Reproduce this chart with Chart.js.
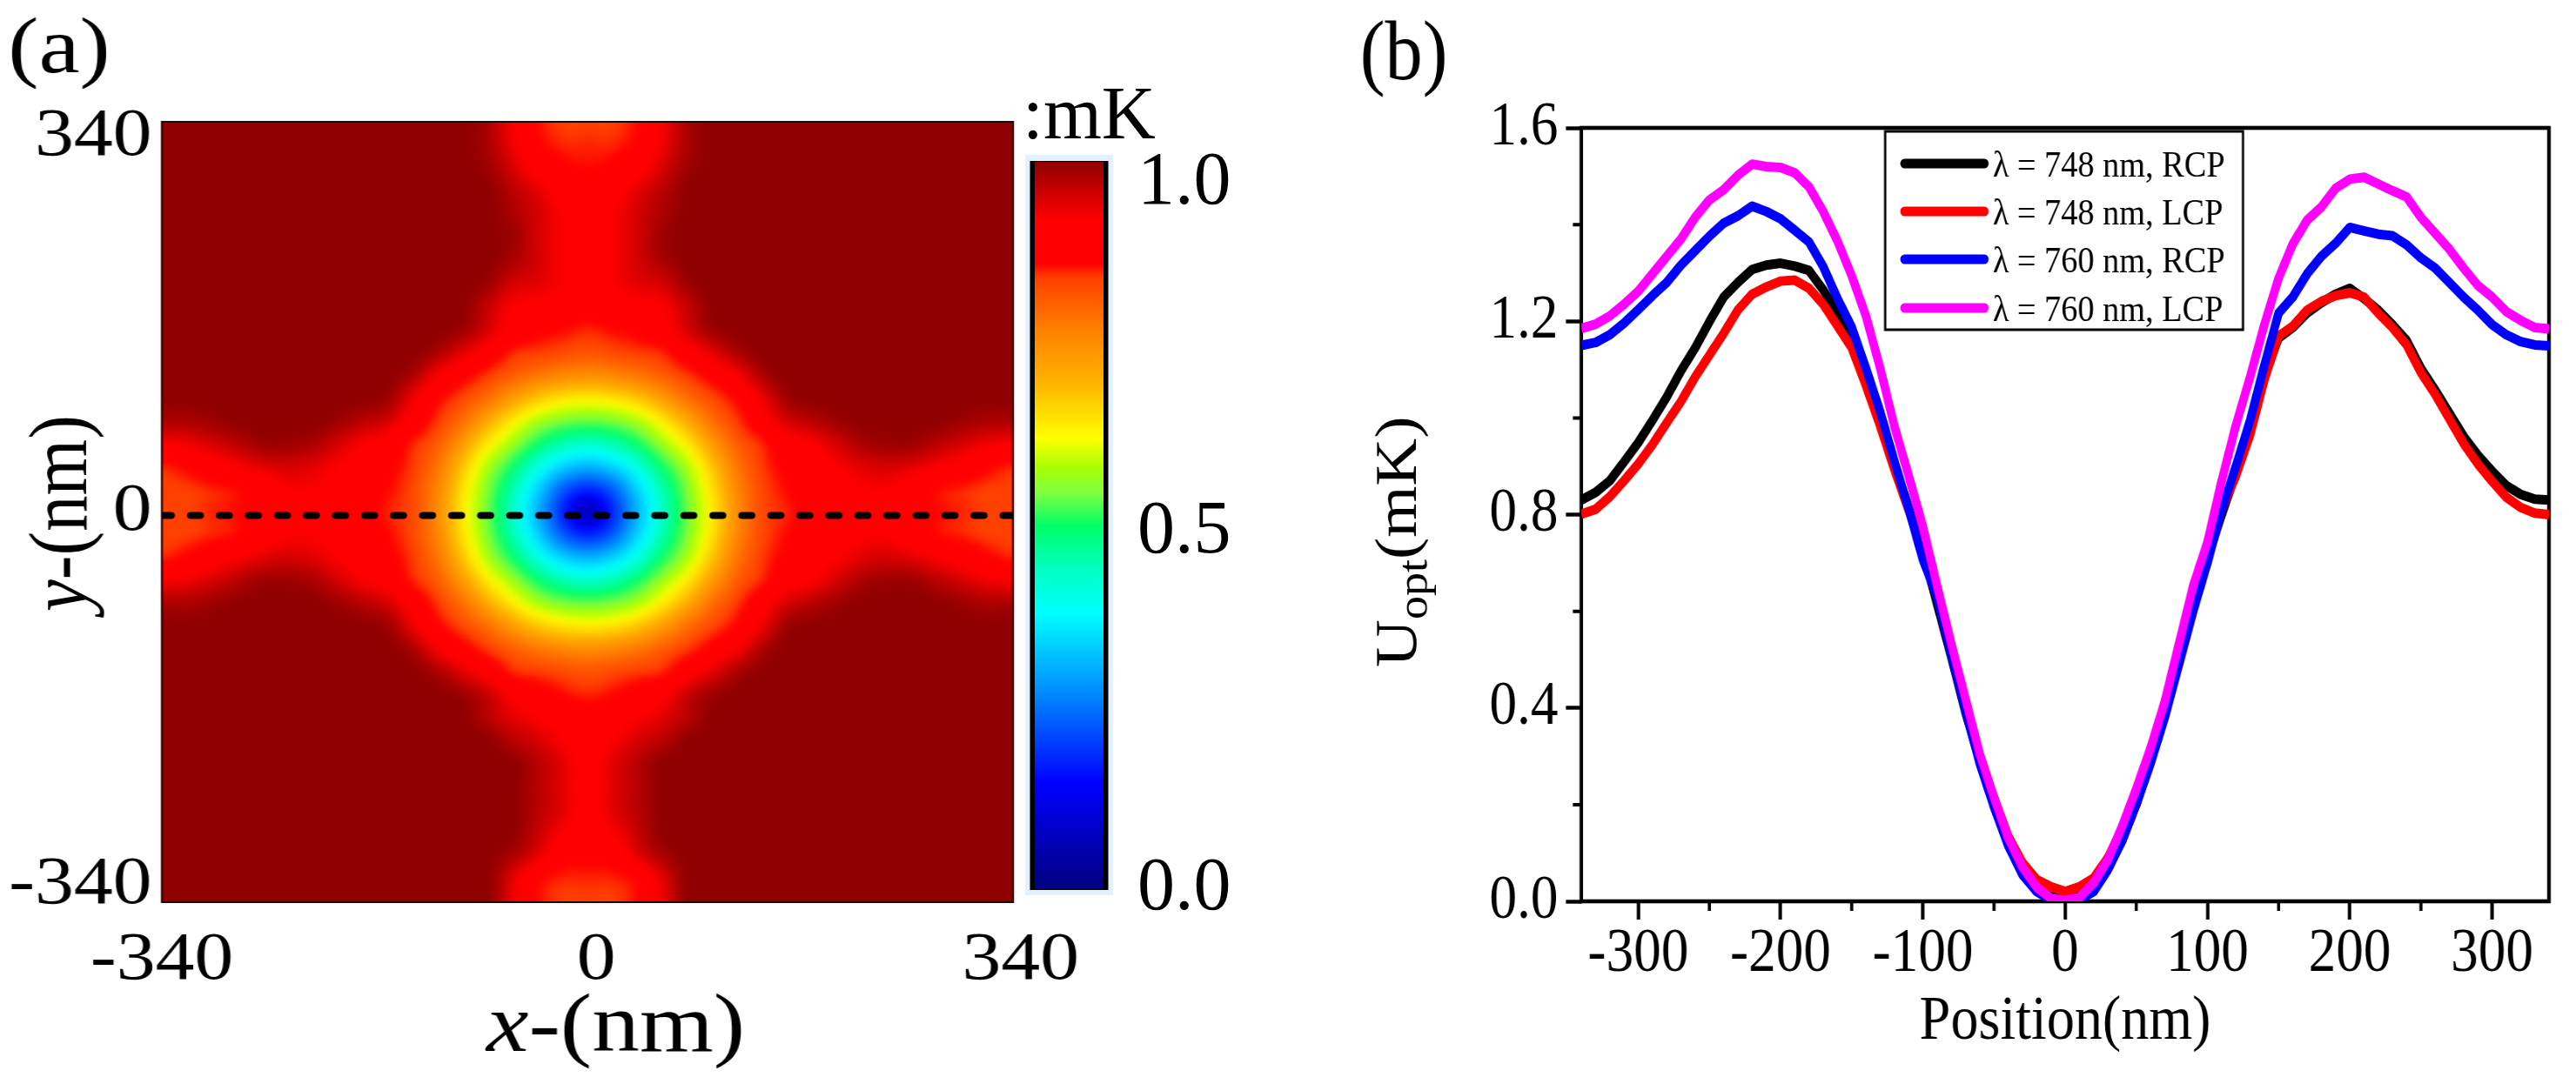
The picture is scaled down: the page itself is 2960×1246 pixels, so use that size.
<!DOCTYPE html>
<html>
<head>
<meta charset="utf-8">
<title>Optical potential</title>
<script src="https://cdn.jsdelivr.net/npm/chart.js@4/dist/chart.umd.js"></script>
<style>
  html, body { margin: 0; padding: 0; background: #fff; }
  body { position: relative; width: 2960px; height: 1246px; overflow: hidden; }
  canvas { position: absolute; transform-origin: 0 0; }
  #mapChart { left: 0; top: 0; transform: scaleX(1.15); }
  #barChart { left: 1170px; top: 100px; }
  #lineChart { left: 1480px; top: 0; transform: scaleX(0.89); }
</style>
</head>
<body>
<canvas id="mapChart" width="1122" height="1246"></canvas>
<canvas id="lineChart" width="1663" height="1246"></canvas>
<canvas id="barChart" width="300" height="1000"></canvas>
<script>
// panel (a): colour level (percent of the colour bar), top row y = 340, bottom row y = -340
const mapX = [-340,-320,-300,-280,-260,-240,-220,-200,-180,-160,-140,-120,-100,-80,-60,-40,-20,0,20,40,60,80,100,120,140,160,180,200,220,240,260,280,300,320,340];
const mapY = [340,320,300,280,260,240,220,200,180,160,140,120,100,80,60,40,20,0,-20,-40,-60,-80,-100,-120,-140,-160,-180,-200,-220,-240,-260,-280,-300,-320,-340];
const mapLevels = [
  [100,100,100,100,100,100,100,100,100,100,100,100,100,98,92,86,84,84,84,86,92,98,100,100,100,100,100,100,100,100,100,100,100,100,100],
  [100,100,100,100,100,100,100,100,100,100,100,100,100,98,93,87,85,85,85,87,93,98,100,100,100,100,100,100,100,100,100,100,100,100,100],
  [100,100,100,100,100,100,100,100,100,100,100,100,100,99,95,90,87,86,87,90,95,99,100,100,100,100,100,100,100,100,100,100,100,100,100],
  [100,100,100,100,100,100,100,100,100,100,100,100,100,100,97,94,90,90,90,94,97,100,100,100,100,100,100,100,100,100,100,100,100,100,100],
  [100,100,100,100,100,100,100,100,100,100,100,100,100,100,98,95,92,90,92,95,98,100,100,100,100,100,100,100,100,100,100,100,100,100,100],
  [100,100,100,100,100,100,100,100,100,100,100,100,100,100,99,95,92,90,92,95,99,100,100,100,100,100,100,100,100,100,100,100,100,100,100],
  [100,100,100,100,100,100,100,100,100,100,100,100,100,100,98,95,92,90,92,95,98,100,100,100,100,100,100,100,100,100,100,100,100,100,100],
  [100,100,100,100,100,100,100,100,100,100,100,100,100,99,95,94,92,90,92,94,95,99,100,100,100,100,100,100,100,100,100,100,100,100,100],
  [100,100,100,100,100,100,100,100,100,100,100,100,100,96,92,91,90,88,90,91,92,96,100,100,100,100,100,100,100,100,100,100,100,100,100],
  [100,100,100,100,100,100,100,100,100,100,100,100,99,95,90,87,86,85,86,87,90,95,99,100,100,100,100,100,100,100,100,100,100,100,100],
  [100,100,100,100,100,100,100,100,100,100,100,98,94,90,85,84,83,82,83,84,85,90,94,98,100,100,100,100,100,100,100,100,100,100,100],
  [100,100,100,100,100,100,100,100,100,100,98,92,88,84,81,78,76,75,76,78,81,84,88,92,98,100,100,100,100,100,100,100,100,100,100],
  [100,100,100,100,100,100,100,100,100,99,93,87,83,79,73,68,65,64,65,68,73,79,83,87,93,99,100,100,100,100,100,100,100,100,100],
  [98,98,99,100,100,100,100,99,97,95,90,84,79,71,64,58,55,54,55,58,64,71,79,84,90,95,97,99,100,100,100,100,99,98,98],
  [92,93,95,97,99,99,98,95,92,90,85,81,73,64,57,50,45,43,45,50,57,64,73,81,85,90,92,95,98,99,99,97,95,93,92],
  [85,87,90,92,94,95,94,92,90,87,84,78,68,58,50,41,34,31,34,41,50,58,68,78,84,87,90,92,94,95,94,92,90,87,85],
  [84,84,85,86,89,92,92,90,88,86,83,76,65,55,45,34,23,18,23,34,45,55,65,76,83,86,88,90,92,92,89,86,85,84,84],
  [84,84,85,86,88,90,90,90,88,85,83,75,64,54,43,31,18,7,18,31,43,54,64,75,83,85,88,90,90,90,88,86,85,84,84],
  [84,84,85,86,89,92,92,90,88,86,83,76,65,55,45,34,23,18,23,34,45,55,65,76,83,86,88,90,92,92,89,86,85,84,84],
  [85,87,90,92,94,95,94,92,90,87,84,78,68,58,50,41,34,31,34,41,50,58,68,78,84,87,90,92,94,95,94,92,90,87,85],
  [92,93,95,97,99,99,98,95,92,90,85,81,73,64,57,50,45,43,45,50,57,64,73,81,85,90,92,95,98,99,99,97,95,93,92],
  [98,98,99,100,100,100,100,99,97,95,90,84,79,71,64,58,55,54,55,58,64,71,79,84,90,95,97,99,100,100,100,100,99,98,98],
  [100,100,100,100,100,100,100,100,100,99,93,87,83,79,73,68,65,64,65,68,73,79,83,87,93,99,100,100,100,100,100,100,100,100,100],
  [100,100,100,100,100,100,100,100,100,100,98,92,88,84,81,78,76,75,76,78,81,84,88,92,98,100,100,100,100,100,100,100,100,100,100],
  [100,100,100,100,100,100,100,100,100,100,100,98,94,90,85,84,83,82,83,84,85,90,94,98,100,100,100,100,100,100,100,100,100,100,100],
  [100,100,100,100,100,100,100,100,100,100,100,100,99,96,91,88,86,85,86,88,91,96,99,100,100,100,100,100,100,100,100,100,100,100,100],
  [100,100,100,100,100,100,100,100,100,100,100,100,100,97,94,92,90,88,90,92,94,97,100,100,100,100,100,100,100,100,100,100,100,100,100],
  [100,100,100,100,100,100,100,100,100,100,100,100,100,100,97,95,92,90,92,95,97,100,100,100,100,100,100,100,100,100,100,100,100,100,100],
  [100,100,100,100,100,100,100,100,100,100,100,100,100,100,100,97,94,90,94,97,100,100,100,100,100,100,100,100,100,100,100,100,100,100,100],
  [100,100,100,100,100,100,100,100,100,100,100,100,100,100,100,97,94,90,94,97,100,100,100,100,100,100,100,100,100,100,100,100,100,100,100],
  [100,100,100,100,100,100,100,100,100,100,100,100,100,100,100,97,94,90,94,97,100,100,100,100,100,100,100,100,100,100,100,100,100,100,100],
  [100,100,100,100,100,100,100,100,100,100,100,100,100,100,100,96,92,90,92,96,100,100,100,100,100,100,100,100,100,100,100,100,100,100,100],
  [100,100,100,100,100,100,100,100,100,100,100,100,100,100,98,94,88,87,88,94,98,100,100,100,100,100,100,100,100,100,100,100,100,100,100],
  [100,100,100,100,100,100,100,100,100,100,100,100,100,100,94,87,85,85,85,87,94,100,100,100,100,100,100,100,100,100,100,100,100,100,100],
  [100,100,100,100,100,100,100,100,100,100,100,100,100,100,93,86,84,84,84,86,93,100,100,100,100,100,100,100,100,100,100,100,100,100,100]
];
const colorStops = [
  [0, 0, 0, 127], [0.146, 0, 0, 255], [0.28, 0, 150, 255], [0.38, 0, 255, 255], [0.44, 0, 255, 192],
  [0.5, 0, 255, 102], [0.545, 128, 255, 64], [0.58, 168, 255, 0], [0.62, 255, 255, 0], [0.7, 255, 176, 0],
  [0.77, 255, 128, 0], [0.84, 255, 64, 0], [0.86, 255, 0, 0], [0.92, 255, 0, 0], [1, 144, 0, 0]
];
const dashedLineX = [-340, 340];
const dashedLineY = [-3, -3];
const mapXTickSpots = [-340, 7, 346];
const mapXTickLabels = ['-340', '0', '340'];
const mapYTickSpots = [-325, 0, 327];
const mapYTickLabels = ['-340', '0', '340'];
const barTickSpots = [0, 0.49, 0.97];
const barTickLabels = ['0.0', '0.5', '1.0'];

// panel (b)
const positions = [-340,-330,-320,-310,-300,-290,-280,-270,-260,-250,-240,-230,-220,-210,-200,-190,-180,-170,-160,-150,-140,-130,-120,-110,-100,-90,-80,-70,-60,-50,-40,-30,-20,-10,0,10,20,30,40,50,60,70,80,90,100,110,120,130,140,150,160,170,180,190,200,210,220,230,240,250,260,270,280,290,300,310,320,330,340];
const rcp748 = [0.83,0.846,0.87,0.909,0.949,0.995,1.043,1.097,1.145,1.199,1.25,1.28,1.307,1.316,1.32,1.314,1.305,1.265,1.217,1.175,1.09,1.0,0.905,0.815,0.725,0.615,0.505,0.39,0.29,0.2,0.125,0.07,0.03,0.012,0.01,0.012,0.03,0.07,0.125,0.2,0.29,0.39,0.505,0.615,0.71,0.8,0.885,0.975,1.085,1.165,1.187,1.217,1.238,1.256,1.268,1.247,1.223,1.193,1.16,1.103,1.058,1.01,0.962,0.923,0.89,0.86,0.842,0.832,0.83];
const lcp748 = [0.801,0.811,0.837,0.87,0.905,0.945,0.99,1.034,1.085,1.13,1.175,1.223,1.256,1.271,1.283,1.285,1.268,1.235,1.19,1.145,1.067,0.983,0.893,0.809,0.745,0.635,0.515,0.4,0.3,0.215,0.135,0.08,0.045,0.03,0.02,0.03,0.048,0.09,0.15,0.225,0.31,0.405,0.51,0.62,0.72,0.81,0.88,0.965,1.079,1.169,1.19,1.223,1.241,1.253,1.259,1.25,1.217,1.187,1.151,1.094,1.049,0.998,0.947,0.905,0.869,0.836,0.815,0.803,0.8];
const rcp760 = [1.15,1.156,1.172,1.196,1.224,1.253,1.28,1.316,1.346,1.376,1.403,1.418,1.438,1.427,1.412,1.388,1.364,1.313,1.247,1.188,1.103,1.013,0.911,0.812,0.707,0.63,0.51,0.395,0.285,0.195,0.115,0.055,0.02,0.003,0,0.003,0.02,0.065,0.125,0.2,0.285,0.38,0.49,0.6,0.7,0.81,0.9,0.995,1.109,1.217,1.25,1.298,1.334,1.361,1.394,1.387,1.38,1.377,1.358,1.331,1.31,1.28,1.25,1.223,1.193,1.172,1.158,1.151,1.149];
const lcp760 = [1.185,1.194,1.211,1.235,1.262,1.298,1.334,1.37,1.415,1.451,1.472,1.502,1.525,1.52,1.518,1.507,1.478,1.427,1.366,1.294,1.211,1.103,0.983,0.881,0.776,0.653,0.533,0.419,0.305,0.215,0.131,0.071,0.029,0.006,0.002,0.008,0.038,0.086,0.155,0.233,0.317,0.413,0.533,0.653,0.743,0.87,0.985,1.085,1.193,1.289,1.36,1.409,1.436,1.475,1.494,1.498,1.484,1.47,1.457,1.415,1.382,1.349,1.31,1.274,1.25,1.22,1.202,1.187,1.184];
const seriesLabels = ['\u03bb = 748 nm, RCP', '\u03bb = 748 nm, LCP', '\u03bb = 760 nm, RCP', '\u03bb = 760 nm, LCP'];
const seriesColors = ['#000000', '#ff0000', '#0000ff', '#ff00ff'];
const xMajorTicks = [-300, -200, -100, 0, 100, 200, 300];
const xMinorTicks = [-250, -150, -50, 50, 150, 250];
const yMajorTicks = [0, 0.4, 0.8, 1.2, 1.6];
const yMinorTicks = [0.2, 0.6, 1.0, 1.4];

const SERIF = '"Liberation Serif", "Times New Roman", serif';
Chart.defaults.font.family = SERIF;
Chart.defaults.color = '#000';
Chart.defaults.animation = false;

function levelColor(v) {
    for (let i = 1; i < colorStops.length; i++) {
        const a = colorStops[i - 1], b = colorStops[i];
        if (v <= b[0]) {
            const t = (v - a[0]) / (b[0] - a[0]);
            return [a[1] + (b[1] - a[1]) * t, a[2] + (b[2] - a[2]) * t, a[3] + (b[3] - a[3]) * t];
        }
    }
    return colorStops[colorStops.length - 1].slice(1);
}

// draws text pieces one after another, optionally turned 90 degrees
function drawPieces(ctx, x, y, pieces, turned) {
    ctx.save();
    ctx.translate(x, y);
    if (turned) ctx.rotate(-Math.PI / 2);
    ctx.fillStyle = '#000';
    ctx.textAlign = 'left';
    ctx.textBaseline = 'alphabetic';
    let at = 0;
    pieces.forEach(p => {
        ctx.font = (p.style || '') + ' ' + p.size + 'px ' + SERIF;
        ctx.fillText(p.text, at, p.drop || 0);
        at += ctx.measureText(p.text).width;
    });
    ctx.restore();
}

// cubic shading between the map cells, like the smooth shading of the original plot
function cubic(a, b, c, d, t) {
    return b + 0.5 * t * (c - a + t * (2 * a - 5 * b + 4 * c - d + t * (3 * (b - c) + d - a)));
}

function levelAt(r, c) {
    const row = mapLevels[Math.max(0, Math.min(mapY.length - 1, r))];
    return row[Math.max(0, Math.min(mapX.length - 1, c))];
}

const mapPlugin = {
    id: 'mapShade',
    beforeDatasetsDraw(chart) {
        const { ctx, scales } = chart;
        const step = 8;
        const size = (mapX.length - 1) * step + 1;
        const off = document.createElement('canvas');
        off.width = off.height = size;
        const octx = off.getContext('2d');
        const img = octx.createImageData(size, size);
        for (let r = 0; r < size; r++) {
            const r0 = Math.floor(r / step), rt = r / step - r0;
            for (let c = 0; c < size; c++) {
                const c0 = Math.floor(c / step), ct = c / step - c0;
                const vals = [-1, 0, 1, 2].map(dr => cubic(
                    levelAt(r0 + dr, c0 - 1), levelAt(r0 + dr, c0), levelAt(r0 + dr, c0 + 1), levelAt(r0 + dr, c0 + 2), ct));
                const rgb = levelColor(Math.max(0, cubic(vals[0], vals[1], vals[2], vals[3], rt)) / 100);
                const i = (r * size + c) * 4;
                img.data[i] = rgb[0]; img.data[i + 1] = rgb[1]; img.data[i + 2] = rgb[2]; img.data[i + 3] = 255;
            }
        }
        octx.putImageData(img, 0, 0);
        const left = scales.x.getPixelForValue(mapX[0]);
        const right = scales.x.getPixelForValue(mapX[mapX.length - 1]);
        const top = scales.y.getPixelForValue(mapY[0]);
        const bottom = scales.y.getPixelForValue(mapY[mapY.length - 1]);
        ctx.save();
        ctx.imageSmoothingEnabled = true;
        ctx.drawImage(off, left, top, right - left, bottom - top);
        // soften the cell corners; the sharp copy underneath keeps the edges solid
        ctx.beginPath();
        ctx.rect(left, top, right - left, bottom - top);
        ctx.clip();
        ctx.filter = 'blur(4px)';
        ctx.drawImage(off, left, top, right - left, bottom - top);
        ctx.restore();
        ctx.strokeStyle = '#2a0000';
        ctx.lineWidth = 2;
        ctx.strokeRect(left, top, right - left, bottom - top);
    },
    afterDraw(chart) {
        const ctx = chart.ctx;
        drawPieces(ctx, 8, 83, [{ text: '(a)', size: 92 }]);
        drawPieces(ctx, 486, 1208, [{ text: 'x', size: 95, style: 'italic' }, { text: '-(nm)', size: 95 }]);
        drawPieces(ctx, 86, 703, [{ text: 'y', size: 83, style: 'italic' }, { text: '-(nm)', size: 83 }], true);
    }
};

new Chart(document.getElementById('mapChart'), {
    type: 'scatter',
    data: {
        datasets: [{
            data: dashedLineX.map((x, i) => ({ x: x, y: dashedLineY[i] })),
            showLine: true,
            borderColor: '#000',
            borderWidth: 8,
            borderDash: [9, 20],
            borderCapStyle: 'round',
            pointRadius: 0
        }]
    },
    options: {
        responsive: false,
        layout: { autoPadding: false, padding: { top: 140, right: 109.8, left: 0, bottom: 0 } },
        plugins: { legend: { display: false }, tooltip: { enabled: false } },
        scales: {
            x: {
                type: 'linear', min: -340, max: 340,
                grid: { display: false }, border: { display: false },
                afterFit: s => { s.height = 209; },
                afterBuildTicks: s => { s.ticks = mapXTickSpots.map(v => ({ value: v })); },
                ticks: { autoSkip: false, maxRotation: 0, padding: 21, font: { size: 78, lineHeight: 1 }, callback: (v, i) => mapXTickLabels[i] }
            },
            y: {
                type: 'linear', min: -340, max: 340,
                grid: { display: false }, border: { display: false },
                afterFit: s => { s.width = 161.7; },
                afterBuildTicks: s => { s.ticks = mapYTickSpots.map(v => ({ value: v })); },
                ticks: { autoSkip: false, padding: 2, font: { size: 78, lineHeight: 1 }, callback: (v, i) => mapYTickLabels[i] }
            }
        }
    },
    plugins: [mapPlugin]
});

// colour bar
const barPlugin = {
    id: 'barFrame',
    beforeDatasetsDraw(chart) {
        const { ctx, chartArea: a } = chart;
        ctx.fillStyle = '#e2f1fb';
        ctx.fillRect(a.left - 11, a.top - 8, a.width + 22, a.height + 15);
        ctx.fillStyle = '#000';
        ctx.fillRect(a.left - 5.5, a.top - 1, a.width + 11, a.height + 2);
    },
    afterDraw(chart) {
        drawPieces(chart.ctx, 5, 59, [{ text: ':mK', size: 86 }]);
    }
};

new Chart(document.getElementById('barChart'), {
    type: 'bar',
    data: {
        labels: [''],
        datasets: [{
            data: [[0, 1]],
            barPercentage: 1,
            categoryPercentage: 1,
            backgroundColor(c) {
                const { chartArea, ctx } = c.chart;
                if (!chartArea) return '#000';
                const g = ctx.createLinearGradient(0, chartArea.bottom, 0, chartArea.top);
                colorStops.forEach(s => g.addColorStop(s[0], 'rgb(' + s[1] + ',' + s[2] + ',' + s[3] + ')'));
                return g;
            }
        }]
    },
    options: {
        responsive: false,
        layout: { autoPadding: false, padding: { top: 86, left: 19, right: 0, bottom: 78 } },
        plugins: { legend: { display: false }, tooltip: { enabled: false } },
        scales: {
            x: { display: false },
            y: {
                position: 'right', min: 0, max: 1,
                grid: { display: false }, border: { display: false },
                afterFit: s => { s.width = 202; },
                afterBuildTicks: s => { s.ticks = barTickSpots.map(v => ({ value: v })); },
                ticks: { autoSkip: false, padding: 31, font: { size: 86, lineHeight: 1 }, callback: (v, i) => barTickLabels[i] }
            }
        }
    },
    plugins: [barPlugin]
});

// panel (b): frame, minor ticks, legend box, y title
const linePlugin = {
    id: 'lineExtras',
    beforeDatasetsDraw(chart) {
        const { ctx, chartArea: a, scales } = chart;
        ctx.save();
        ctx.strokeStyle = '#000';
        ctx.lineWidth = 4.6;
        ctx.strokeRect(a.left, a.top, a.width, a.height);
        ctx.beginPath();
        xMinorTicks.forEach(v => {
            const x = scales.x.getPixelForValue(v);
            ctx.moveTo(x, a.bottom);
            ctx.lineTo(x, a.bottom + 11);
        });
        yMinorTicks.forEach(v => {
            const y = scales.y.getPixelForValue(v);
            ctx.moveTo(a.left, y);
            ctx.lineTo(a.left - 11, y);
        });
        ctx.lineWidth = 4;
        ctx.stroke();
        ctx.restore();
    },
    afterDraw(chart) {
        const ctx = chart.ctx;
        ctx.save();
        ctx.fillStyle = '#fff';
        ctx.fillRect(771, 151, 462, 228);
        ctx.strokeStyle = '#000';
        ctx.lineWidth = 3;
        ctx.strokeRect(771, 151, 462, 228);
        [188, 243, 298, 354].forEach((y, i) => {
            const set = chart.data.datasets[i];
            ctx.strokeStyle = set.borderColor;
            ctx.lineWidth = 11;
            ctx.lineCap = 'round';
            ctx.beginPath();
            ctx.moveTo(796, y);
            ctx.lineTo(899, y);
            ctx.stroke();
            drawPieces(ctx, 910, y + 15, [{ text: set.label, size: 43 }]);
        });
        ctx.restore();
        drawPieces(ctx, 93, 91, [{ text: '(b)', size: 97 }]);
        drawPieces(ctx, 165, 767, [
            { text: 'U', size: 76 },
            { text: 'opt', size: 54, drop: 14 },
            { text: '(mK)', size: 76 }
        ], true);
    }
};

new Chart(document.getElementById('lineChart'), {
    type: 'line',
    data: {
        labels: positions,
        datasets: [rcp748, lcp748, rcp760, lcp760].map((values, i) => ({
            label: seriesLabels[i],
            data: values.map((v, k) => ({ x: positions[k], y: v })),
            borderColor: seriesColors[i],
            borderWidth: 11,
            borderJoinStyle: 'round',
            pointRadius: 0,
            tension: 0,
            order: 3 - i // later series lie on top, magenta last
        }))
    },
    options: {
        responsive: false,
        layout: { autoPadding: false, padding: { top: 147, right: 35, left: 0, bottom: 0 } },
        plugins: { legend: { display: false }, tooltip: { enabled: false } },
        scales: {
            x: {
                type: 'linear', min: -340, max: 340,
                grid: { display: true, drawOnChartArea: false, tickLength: 21, tickWidth: 4.4, tickColor: '#000' },
                border: { display: false },
                afterFit: s => { s.height = 210; },
                afterBuildTicks: s => { s.ticks = xMajorTicks.map(v => ({ value: v })); },
                title: { display: true, text: 'Position(nm)', font: { size: 72, lineHeight: 1 }, padding: { top: 0, bottom: 35 } },
                ticks: { autoSkip: false, maxRotation: 0, padding: 5, font: { size: 71, lineHeight: 1 } }
            },
            y: {
                min: 0, max: 1.6,
                grid: { display: true, drawOnChartArea: false, tickLength: 20, tickWidth: 4.4, tickColor: '#000' },
                border: { display: false },
                afterFit: s => { s.width = 378.7; },
                afterBuildTicks: s => { s.ticks = yMajorTicks.map(v => ({ value: v })); },
                ticks: { autoSkip: false, padding: 10, font: { size: 71, lineHeight: 1 }, callback: v => v.toFixed(1) }
            }
        }
    },
    plugins: [linePlugin]
});
</script>
</body>
</html>
